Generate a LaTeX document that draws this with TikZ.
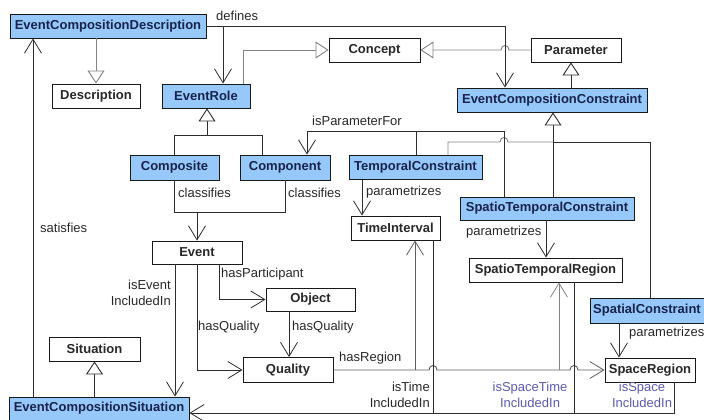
\documentclass[tikz,border=0pt]{standalone}
\usepackage{fontspec}
\setmainfont{Liberation Sans}
\usetikzlibrary{arrows.meta}

\definecolor{boxblue}{RGB}{150,200,250}
\definecolor{navy}{RGB}{25,35,75}
\definecolor{ink}{RGB}{40,40,40}
\definecolor{wire}{RGB}{45,45,45}
\definecolor{midwire}{RGB}{95,95,95}
\definecolor{greywire}{RGB}{130,130,130}
\definecolor{rolelabel}{RGB}{90,90,180}

\begin{document}
\begin{tikzpicture}[x=1pt,y=-1pt,
  cls/.style={draw=black!90, line width=0.9pt, inner sep=0pt, fill=white,
    text=ink, font=\fontsize{13}{15}\selectfont\bfseries},
  ecls/.style={cls, fill=boxblue, text=navy},
  lbl/.style={inner sep=0pt, text=ink, font=\fontsize{13}{16}\selectfont},
  rolelbl/.style={lbl, text=rolelabel, align=center},
  wireline/.style={draw=wire, line width=0.95pt},
  assoc/.style={wireline, -{Straight Barb[length=14pt,width=17pt,line width=0.8pt]}},
  gen/.style={wireline, -{Triangle[length=13pt,width=17pt,fill=white,line width=0.9pt]}},
]
\useasboundingbox (0,0) rectangle (704,420);

% classes
\node[ecls, minimum width=196pt, minimum height=24pt] (ecd) at (108,26) {EventCompositionDescription};
\node[cls,  minimum width=88pt,  minimum height=24pt] (desc) at (96,96) {Description};
\node[ecls, minimum width=88pt,  minimum height=24pt] (erole) at (206,96) {EventRole};
\node[cls,  minimum width=91pt,  minimum height=24pt] (concept) at (374.5,50) {Concept};
\node[cls,  minimum width=90pt,  minimum height=24pt] (param) at (576,50) {Parameter};
\node[ecls, minimum width=190pt, minimum height=24pt] (ecc) at (552,100) {EventCompositionConstraint};
\node[ecls, minimum width=89pt,  minimum height=25pt] (composite) at (174.5,167.5) {Composite};
\node[ecls, minimum width=90pt,  minimum height=25pt] (component) at (285,167.5) {Component};
\node[ecls, minimum width=133pt, minimum height=24pt] (tc) at (415.5,167.5) {TemporalConstraint};
\node[ecls, minimum width=174pt, minimum height=23pt] (stc) at (547,208.5) {SpatioTemporalConstraint};
\node[cls,  minimum width=89pt,  minimum height=24pt] (timeint) at (395.5,228) {TimeInterval};
\node[cls,  minimum width=153pt, minimum height=24pt] (str) at (545.5,270) {SpatioTemporalRegion};
\node[ecls, minimum width=114pt, minimum height=25pt] (sc) at (647,310.5) {SpatialConstraint};
\node[cls,  minimum width=90pt,  minimum height=24pt] (sr) at (650,370) {SpaceRegion};
\node[cls,  minimum width=90pt,  minimum height=23pt] (event) at (197,252.5) {Event};
\node[cls,  minimum width=89pt,  minimum height=23pt] (object) at (310.5,299.5) {Object};
\node[cls,  minimum width=90pt,  minimum height=25pt] (quality) at (288,370) {Quality};
\node[cls,  minimum width=91pt,  minimum height=24pt] (situation) at (94.5,349) {Situation};
\node[ecls, minimum width=180pt, minimum height=23pt] (ecs) at (99,408.5) {EventCompositionSituation};

% junctions and routing columns
\coordinate (defX) at (505,0);
\coordinate (defJ) at (223,26);
\coordinate (erX) at (243,0);
\coordinate (pX) at (571,0);
\coordinate (roleJ) at (207,135);
\coordinate (cmpX) at (262,0);
\coordinate (ipR) at (504,131);
\coordinate (ipT) at (416,131);
\coordinate (ipL) at (307,0);
\coordinate (cJ) at (553,142);
\coordinate (tcX) at (448,0);
\coordinate (scX) at (650,0);
\coordinate (p1) at (362,0);
\coordinate (p2) at (546,0);
\coordinate (p3) at (619,0);
\coordinate (clJ) at (197,212);
\coordinate (evA) at (175,0);
\coordinate (evQ) at (197,0);
\coordinate (evP) at (219,0);
\coordinate (oQ) at (289,0);
\coordinate (hrT) at (415,370);
\coordinate (hrS) at (559,370);
\coordinate (tiX) at (433,413);
\coordinate (stX) at (574,413);
\coordinate (srX) at (674,413);
\coordinate (satX) at (33,0);

% generalisations
\draw[gen, draw=greywire] (ecd.south -| desc.north) -- (desc.north);
\draw[gen, draw=greywire] (erole.north -| erX) |- (concept.west);
\draw[gen, draw=greywire] (param.west) -- (509,50) .. controls (509,44) and (501,44) .. (501,50) -- (concept.east);
\draw[gen] (ecc.north -| pX) -- (param.south -| pX);
\draw[gen] (roleJ) -- (erole.south -| roleJ);
\draw[wireline] (composite.north) |- (roleJ);
\draw[wireline] (component.north -| cmpX) |- (roleJ);
\draw[gen] (stc.north -| cJ) -- (ecc.south -| cJ);
\draw[wireline, draw=greywire] (tc.north -| tcX) |- (500,142) .. controls (500,136) and (508,136) .. (508,142) -- (cJ);
\draw[wireline] (sc.north -| scX) |- (cJ);
\draw[gen] (ecs.north -| situation.south) -- (situation.south);

% defines
\draw[assoc] (ecd.east) -| (ecc.north -| defX);
\draw[assoc] (defJ) -- (erole.north -| defJ);
\node[lbl, anchor=west] (defLbl) at (216,16) {defines};

% isParameterFor
\draw[assoc] (stc.north -| ipR) -- (ipR) -| (component.north -| ipL);
\draw[wireline] (ipT) -- (tc.north -| ipT);
\node[lbl, anchor=west] (ipfLbl) at (312,121) {isParameterFor};

% classifies
\draw[wireline] (composite.south) |- (component.south |- clJ) -- (component.south);
\draw[assoc] (clJ) -- (event.north -| clJ);
\node[lbl, anchor=west] (clLbl1) at (178,193) {classifies};
\node[lbl, anchor=west] (clLbl2) at (288,193) {classifies};

% parametrizes
\draw[assoc] (tc.south -| p1) -- (timeint.north -| p1);
\node[lbl, anchor=west] (parLbl1) at (366,192) {parametrizes};
\draw[assoc] (stc.south -| p2) -- (str.north -| p2);
\node[lbl, anchor=west] (parLbl2) at (466,232) {parametrizes};
\draw[assoc] (sc.south -| p3) -- (sr.north -| p3);
\node[lbl, anchor=west] (parLbl3) at (629,333) {parametrizes};

% event relations
\draw[assoc] (event.south -| evA) -- (ecs.north -| evA);
\node[lbl, anchor=east, align=right] (ieLbl) at (171,293) {isEvent\\IncludedIn};
\draw[assoc] (event.south -| evP) |- (object.west);
\node[lbl, anchor=west] (hpLbl) at (221,274) {hasParticipant};
\draw[assoc] (event.south -| evQ) |- (quality.west);
\node[lbl, anchor=west] (hqLbl1) at (198,327) {hasQuality};
\draw[assoc] (object.south -| oQ) -- (quality.north -| oQ);
\node[lbl, anchor=west] (hqLbl2) at (292,327) {hasQuality};

% hasRegion
\draw[assoc, draw=midwire] (quality.east) -- (429,370) .. controls (429,364) and (437,364) .. (437,370) -- (570,370) .. controls (570,364) and (578,364) .. (578,370) -- (sr.west);
\draw[assoc, draw=midwire] (hrT) -- (timeint.south -| hrT);
\draw[assoc, draw=greywire] (hrS) -- (str.south -| hrS);
\node[lbl, anchor=west] (hrLbl) at (339,358) {hasRegion};

% inclusion in the situation
\draw[assoc] (timeint.south -| tiX) |- (ecs.east |- tiX);
\draw[wireline] (str.south -| stX) -- (stX);
\draw[wireline] (sr.south -| srX) |- (tiX);
\node[lbl, anchor=east, align=right] (itLbl) at (430,395) {isTime\\IncludedIn};
\node[rolelbl] (istLbl) at (530,395) {isSpaceTime\\IncludedIn};
\node[rolelbl] (isLbl) at (642,395) {isSpace\\IncludedIn};

% satisfies
\draw[assoc] (ecs.north -| satX) -- (ecd.south -| satX);
\node[lbl, anchor=west] (satLbl) at (40,228) {satisfies};
\end{tikzpicture}
\end{document}
